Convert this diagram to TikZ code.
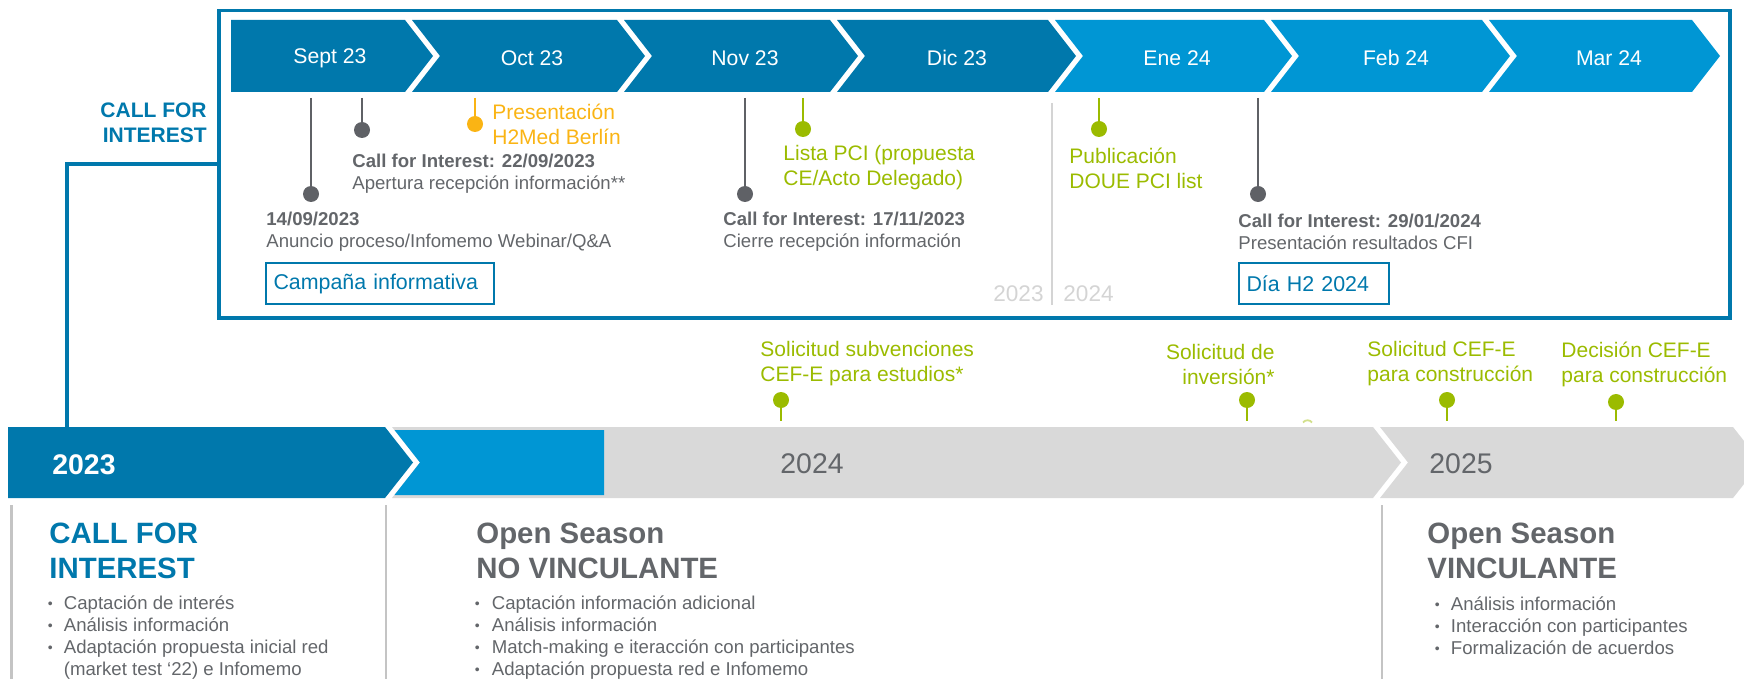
\documentclass[tikz,border=0pt]{standalone}
\usepackage{fontspec}
\setmainfont{Liberation Sans}
\usetikzlibrary{positioning}
\definecolor{cfiblue}{RGB}{0,120,172}
\definecolor{skyblue}{RGB}{0,150,212}
\definecolor{bargray}{RGB}{217,217,217}
\definecolor{textgray}{RGB}{99,102,106}
\definecolor{stemgray}{RGB}{95,97,102}
\definecolor{rulegray}{RGB}{196,196,196}
\definecolor{yeargray}{RGB}{212,212,212}
\definecolor{pcigreen}{RGB}{155,187,0}
\definecolor{eventorange}{RGB}{250,180,20}
\newcommand{\smallbullet}{\raisebox{0.7pt}{\fontsize{7}{7}\selectfont\textbullet}}
\tikzset{
  month/.style={
    text=white,
    font=\fontsize{10.6}{12}\selectfont,
  },
  frame/.style={
    draw=cfiblue,
    line width=1.75pt,
    anchor=north west,
    minimum width=755.5pt,
    minimum height=153.75pt,
    inner sep=0pt,
    outer sep=0pt,
  },
  link/.style={
    draw=cfiblue,
    line width=1.75pt,
  },
  detail/.style={
    anchor=west,
    align=left,
    inner sep=0pt,
    text=textgray,
    font=\fontsize{9.3}{11}\selectfont,
  },
  milestone/.style={
    anchor=west,
    align=left,
    inner sep=0pt,
    text=#1,
    font=\fontsize{10.5}{12.5}\selectfont,
  },
  milestone/.default=pcigreen,
  tag box/.style={
    draw=cfiblue,
    line width=1pt,
    anchor=north west,
    align=left,
    text=cfiblue,
    text width=#1,
    inner xsep=3.75pt,
    minimum height=20.5pt,
    font=\fontsize{10.7}{12}\selectfont,
  },
  event dot/.style={
    circle,
    fill=#1,
    inner sep=0pt,
    minimum size=8pt,
  },
  event stem/.style={
    draw=#1,
    line width=1.15pt,
  },
  split rule/.style={
    draw=rulegray,
    line width=1.4pt,
  },
  bar year/.style={
    anchor=west,
    inner sep=0pt,
    text=textgray,
    font=\fontsize{14.2}{16}\selectfont,
  },
  phase title/.style={
    anchor=west,
    align=left,
    inner sep=0pt,
    text=textgray,
    font=\bfseries\fontsize{14.7}{17.5}\selectfont,
  },
  bullet list/.style={
    anchor=west,
    inner sep=0pt,
    text=textgray,
    font=\fontsize{9.3}{11}\selectfont,
  },
}

\begin{document}
\begin{tikzpicture}[x=0.5pt, y=-0.5pt]
  \useasboundingbox (0,0) rectangle (1744,679);

  % monthly chevrons
  \fill[cfiblue] (231,20) -- (405,20) -- (433,56) -- (405,92) -- (231,92) -- cycle;
  \fill[cfiblue] (412,20) -- (617,20) -- (645,56) -- (617,92) -- (412,92) -- (440,56) -- cycle;
  \fill[cfiblue] (624,20) -- (830,20) -- (858,56) -- (830,92) -- (624,92) -- (652,56) -- cycle;
  \fill[cfiblue] (837,20) -- (1048,20) -- (1076,56) -- (1048,92) -- (837,92) -- (865,56) -- cycle;
  \fill[skyblue] (1055,20) -- (1264,20) -- (1292,56) -- (1264,92) -- (1055,92) -- (1083,56) -- cycle;
  \fill[skyblue] (1271,20) -- (1482,20) -- (1510,56) -- (1482,92) -- (1271,92) -- (1299,56) -- cycle;
  \fill[skyblue] (1489,20) -- (1692,20) -- (1720,56) -- (1692,92) -- (1489,92) -- (1517,56) -- cycle;

  \node [month] (sep23) at (330,58) {Sept 23};
  \node [month] (oct23) at (532,58) {Oct 23};
  \node [month] (nov23) at (745,58) {Nov 23};
  \node [month] (dic23) at (957,58) {Dic 23};
  \node [month] (ene24) at (1177,58) {Ene 24};
  \node [month] (feb24) at (1396,58) {Feb 24};
  \node [month] (mar24) at (1609,58) {Mar 24};

  \node [frame] (window) at (219,10.5) {};
  \node [anchor=east, align=right, inner sep=0pt, text=cfiblue,
         font=\bfseries\fontsize{10.5}{12.5}\selectfont] (cfiside) at (207,122.5) {CALL FOR\\INTEREST};
  \coordinate (bar23) at (67,427);
  \draw [link] (window.west) -| (bar23);

  % year split inside the window
  \draw [draw=yeargray, line width=1pt] (1052,103) -- (1052,305);
  \node [anchor=east, inner sep=0pt, text=yeargray, font=\fontsize{11.3}{13}\selectfont] (old) at (1044,294) {2023};
  \node [right=9.5pt of old, inner sep=0pt, text=yeargray, font=\fontsize{11.3}{13}\selectfont] (new) {2024};

  % events on the months
  \coordinate (e1) at (311,98);
  \coordinate (e2) at (362,98);
  \coordinate (e3) at (475,98);
  \coordinate (e4) at (745,98);
  \coordinate (e5) at (803,98);
  \coordinate (e6) at (1099,98);
  \coordinate (e7) at (1258,98);
  \node [event dot=stemgray] (d1) at (311,194) {};
  \node [event dot=stemgray] (d2) at (362,130) {};
  \node [event dot=eventorange] (d3) at (475,124) {};
  \node [event dot=stemgray] (d4) at (745,194) {};
  \node [event dot=pcigreen] (d5) at (803,129) {};
  \node [event dot=pcigreen] (d6) at (1099,129) {};
  \node [event dot=stemgray] (d7) at (1258,194) {};
  \draw [event stem=stemgray] (e1) -- (d1);
  \draw [event stem=stemgray] (e2) -- (d2);
  \draw [event stem=eventorange] (e3) -- (d3);
  \draw [event stem=stemgray] (e4) -- (d4);
  \draw [event stem=pcigreen] (e5) -- (d5);
  \draw [event stem=pcigreen] (e6) -- (d6);
  \draw [event stem=stemgray] (e7) -- (d7);

  \node [milestone=eventorange] (berlin) at (492,124.5) {Presentación\\H2Med Berlín};
  \node [detail] (cfiopen) at (352,174) {\textbf{Call for Interest: 22/09/2023}\\Apertura recepción información**};
  \node [detail] (webinar) at (266,231.5) {\textbf{14/09/2023}\\Anuncio proceso/Infomemo Webinar/Q\&A};
  \node [milestone] (pcilist) at (783,168) {Lista PCI (propuesta\\CE/Acto Delegado)};
  \node [detail] (cficlose) at (723,231.5) {\textbf{Call for Interest: 17/11/2023}\\Cierre recepción información};
  \node [milestone] (doue) at (1069,168) {Publicación\\DOUE PCI list};
  \node [detail] (cfiresult) at (1238,231.5) {\textbf{Call for Interest: 29/01/2024}\\Presentación resultados CFI};
  \node [tag box=106.5pt] (campaign) at (265,262) {Campaña informativa};
  \node [tag box=67.5pt] (h2day) at (1238,262) {Día H2 2024};

  % funding milestones above the years
  \node [milestone] (cefstudy) at (760,364) {Solicitud subvenciones\\CEF-E para estudios*};
  \node [milestone, anchor=east, align=right] (invest) at (1275,364) {Solicitud de\\inversión*};
  \node [milestone] (cefbuild) at (1367,364) {Solicitud CEF-E\\para construcción};
  \node [milestone] (cefdecide) at (1561,364) {Decisión CEF-E\\para construcción};
  \node [event dot=pcigreen] (g1) at (781,400) {};
  \node [event dot=pcigreen] (g2) at (1247,400) {};
  \node [event dot=pcigreen] (g3) at (1447,400) {};
  \node [event dot=pcigreen] (g4) at (1616,402) {};
  \coordinate (f1) at (781,421);
  \coordinate (f2) at (1247,421);
  \coordinate (f3) at (1447,421);
  \coordinate (f4) at (1616,421);
  \draw [event stem=pcigreen] (g1) -- (f1);
  \draw [event stem=pcigreen] (g2) -- (f2);
  \draw [event stem=pcigreen] (g3) -- (f3);
  \draw [event stem=pcigreen] (g4) -- (f4);
  \draw [pcigreen!45, line width=0.9pt] (1303,422.5) .. controls (1305,419.5) and (1310,419.5) .. (1312,422.5);

  % yearly bar
  \fill[cfiblue] (8,427) -- (385,427) -- (413,462.5) -- (385,498) -- (8,498) -- cycle;
  \fill[bargray] (392,427) -- (1373,427) -- (1401,462.5) -- (1373,498) -- (392,498) -- (420,462.5) -- cycle;
  \fill[skyblue] (394.5,430) -- (604,430) -- (604,495) -- (394.5,495) -- (420,462.5) -- cycle;
  \fill[bargray] (1380,427) -- (1733,427) -- (1761,462.5) -- (1733,498) -- (1380,498) -- (1408,462.5) -- cycle;

  \node [bar year, text=white, font=\bfseries\fontsize{14.2}{16}\selectfont] (y2023) at (52,465) {2023};
  \node [bar year, anchor=center] (y2024) at (812,464) {2024};
  \node [bar year] (y2025) at (1429,464) {2025};

  % phases
  \draw [split rule] (11.5,505) -- (11.5,679);
  \draw [split rule] (386,505) -- (386,679);
  \draw [split rule] (1382,505) -- (1382,679);

  \node [phase title, text=cfiblue] (cfititle) at (49,550.5) {CALL FOR\\INTEREST};
  \node [phase title] (nbtitle) at (476,550.5) {Open Season\\NO VINCULANTE};
  \node [phase title] (btitle) at (1427,551) {Open Season\\VINCULANTE};

  \node [bullet list] (cfilist) at (47.5,638) {\begin{tabular}{@{}p{8pt}@{}l@{}}
    \smallbullet & Captación de interés\\
    \smallbullet & Análisis información\\
    \smallbullet & Adaptación propuesta inicial red\\
                 & (market test ‘22) e Infomemo
  \end{tabular}};
  \node [bullet list] (nblist) at (474.5,638) {\begin{tabular}{@{}p{8.5pt}@{}l@{}}
    \smallbullet & Captación información adicional\\
    \smallbullet & Análisis información\\
    \smallbullet & Match-making e iteracción con participantes\\
    \smallbullet & Adaptación propuesta red e Infomemo
  \end{tabular}};
  \node [bullet list] (blist) at (1434.5,628.5) {\begin{tabular}{@{}p{8pt}@{}l@{}}
    \smallbullet & Análisis información\\
    \smallbullet & Interacción con participantes\\
    \smallbullet & Formalización de acuerdos
  \end{tabular}};
\end{tikzpicture}
\end{document}
